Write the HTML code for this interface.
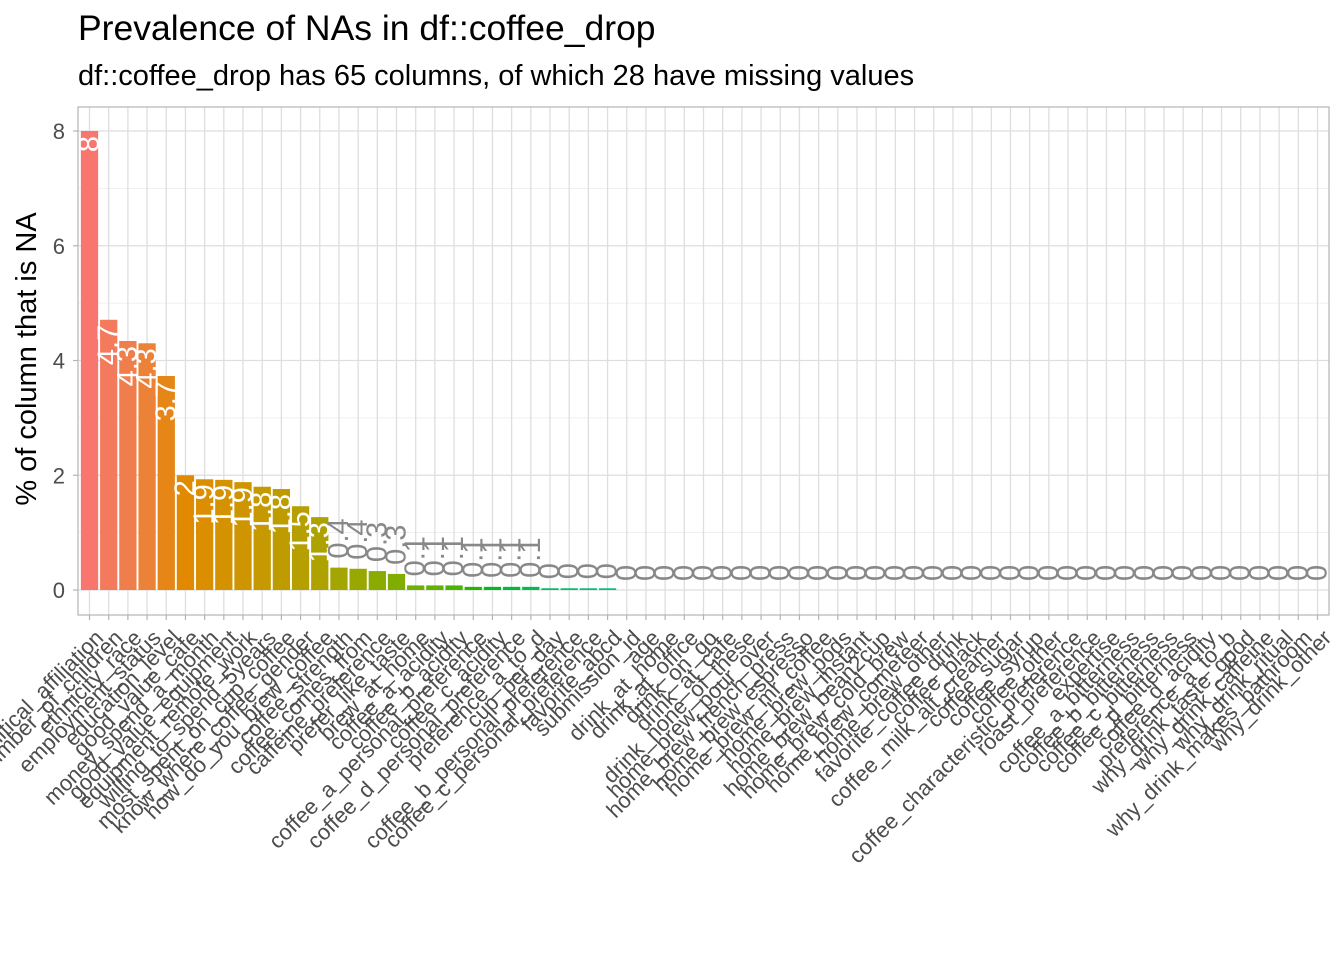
<!DOCTYPE html>
<html><head><meta charset="utf-8"><style>
body{margin:0;background:#fff;}
svg{display:block;font-family:"Liberation Sans",sans-serif;}
</style></head><body>
<svg id="chart" width="1344" height="960" viewBox="0 0 1344 960">
<text x="78" y="40" font-size="35.5" fill="#000">Prevalence of NAs in df::coffee_drop</text>
<text x="78" y="85" font-size="29" fill="#000">df::coffee_drop has 65 columns, of which 28 have missing values</text>
<text transform="translate(36,359) rotate(-90)" text-anchor="middle" font-size="29" fill="#000">% of column that is NA</text>
<g id="grid"></g>
<g id="bars"></g>
<g id="labels"></g>
<rect x="78" y="107" width="1251" height="508" fill="none" stroke="#b3b3b3" stroke-width="1.2"/>
<g id="axes"></g>
</svg>
<script>
const categories = ["political_affiliation","number_of_children","ethnicity_race","employment_status","education_level","good_value_cafe","money_spend_a_month","good_value_equipment","equipment_remote_work","willing_to_spend_5years","most_spent_on_cup_coffee","know_where_coffee_gender","how_do_you_brew_coffee","coffee_strength","coffee_comes_from","caffeine_preference","prefer_like_taste","brew_at_home","coffee_a_acidity","coffee_b_acidity","coffee_a_personal_preference","coffee_c_acidity","coffee_d_personal_preference","preference_a_to_d","cup_per_day","coffee_b_personal_preference","coffee_c_personal_preference","favorite_abcd","submission_id","age","drink_at_home","drink_at_office","drink_on_go","drink_at_cafe","drink_none_of_these","home_brew_pour_over","home_brew_french_press","home_brew_espresso","home_brew_mr_coffee","home_brew_pods","home_brew_instant","home_brew_bean2cup","home_brew_cold_brew","home_brew_cometeer","home_brew_other","favorite_coffee_drink","coffee_black","coffee_milk_alt_creamer","coffee_sugar","coffee_syrup","coffee_other","coffee_characteristic_preference","roast_preference","expertise","coffee_a_bitterness","coffee_b_bitterness","coffee_c_bitterness","coffee_d_bitterness","coffee_d_acidity","preference_a_to_b","why_drink_taste_good","why_drink_caffeine","why_drink_ritual","why_drink_makes_bathroom","why_drink_other"];
const pctNA = [8.0,4.71,4.34,4.30,3.73,2.0,1.93,1.92,1.88,1.80,1.76,1.46,1.27,0.39,0.37,0.33,0.28,0.08,0.08,0.08,0.055,0.055,0.055,0.055,0.03,0.03,0.03,0.03,0,0,0,0,0,0,0,0,0,0,0,0,0,0,0,0,0,0,0,0,0,0,0,0,0,0,0,0,0,0,0,0,0,0,0,0,0];
const yTicks = [0,2,4,6,8];
const yMinor = [1,3,5,7];

const NS="http://www.w3.org/2000/svg";
const L=78,R=1329,T=107,B=615;
const step=(R-L)/65.2;
function xS(i){return L+(i+0.6)*step;}
function yS(v){return 590-v*57.375;}
function mk(tag,attrs,parent){const e=document.createElementNS(NS,tag);for(const k in attrs)e.setAttribute(k,attrs[k]);parent.appendChild(e);return e;}
function hcl(h,c,l){
  const hr=h*Math.PI/180,u=c*Math.cos(hr),v=c*Math.sin(hr);
  const Xn=95.047,Yn=100,Zn=108.883,d=Xn+15*Yn+3*Zn,un=4*Xn/d,vn=9*Yn/d;
  const Y=Yn*Math.pow((l+16)/116,3);
  const up=u/(13*l)+un,vp=v/(13*l)+vn;
  const X=9*Y*up/(4*vp),Z=Y*(12-3*up-20*vp)/(4*vp);
  const x=X/100,y=Y/100,z=Z/100;
  let r=3.2404542*x-1.5371385*y-0.4985314*z,g=-0.9692660*x+1.8760108*y+0.0415560*z,b=0.0556434*x-0.2040259*y+1.0572252*z;
  const gm=t=>{t=t<=0.0031308?12.92*t:1.055*Math.pow(t,1/2.4)-0.055;return Math.round(Math.max(0,Math.min(1,t))*255);};
  return `rgb(${gm(r)},${gm(g)},${gm(b)})`;
}
const grid=document.getElementById('grid'),bars=document.getElementById('bars'),labs=document.getElementById('labels'),axes=document.getElementById('axes');
yMinor.forEach(v=>{const e=mk('line',{x1:L,x2:R,y1:yS(v),y2:yS(v),stroke:'#ebebeb','stroke-width':0.8},grid);

});
yTicks.forEach(v=>{const e=mk('line',{x1:L,x2:R,y1:yS(v),y2:yS(v),stroke:'#dedede','stroke-width':1.3},grid);


const t=mk('line',{x1:L-5,x2:L,y1:yS(v),y2:yS(v),stroke:'#b3b3b3','stroke-width':1.2},axes);


const tl=mk('text',{x:L-13,y:yS(v)+8,'text-anchor':'end','font-size':22,fill:'#4d4d4d'},axes);tl.textContent=v;

});
categories.forEach((c,i)=>{
  const x=xS(i);
  const gl=mk('line',{x1:x,x2:x,y1:T,y2:B,stroke:'#dedede','stroke-width':1.3},grid);
  
  
  const v=pctNA[i];
  if(v>0){const r=mk('rect',{x:x-step*0.45,width:step*0.9,y:yS(v),height:yS(0)-yS(v),fill:hcl(15+360*i/65,100,65)},bars);
  
  }
  const lbl=String(Number(v.toFixed(1)));
  const inside=v>=1;
  const ly=inside?yS(v)+5:yS(v)-9;
  const t=mk('text',{transform:`translate(${x},${ly}) rotate(-90)`,'text-anchor':inside?'end':'start','dominant-baseline':'central','font-size':29,fill:inside?'#fff':'#888'},labs);
  t.textContent=lbl;
  
  
  const tk=mk('line',{x1:x,x2:x,y1:B,y2:B+5,stroke:'#b3b3b3','stroke-width':1.2},axes);
  
  
  const xl=mk('text',{transform:`translate(${x+4},${B+13}) rotate(-45)`,'text-anchor':'end',dy:'0.72em','font-size':22,fill:'#4d4d4d'},axes);
  xl.textContent=c;
  
  
});
</script>
</body></html>
